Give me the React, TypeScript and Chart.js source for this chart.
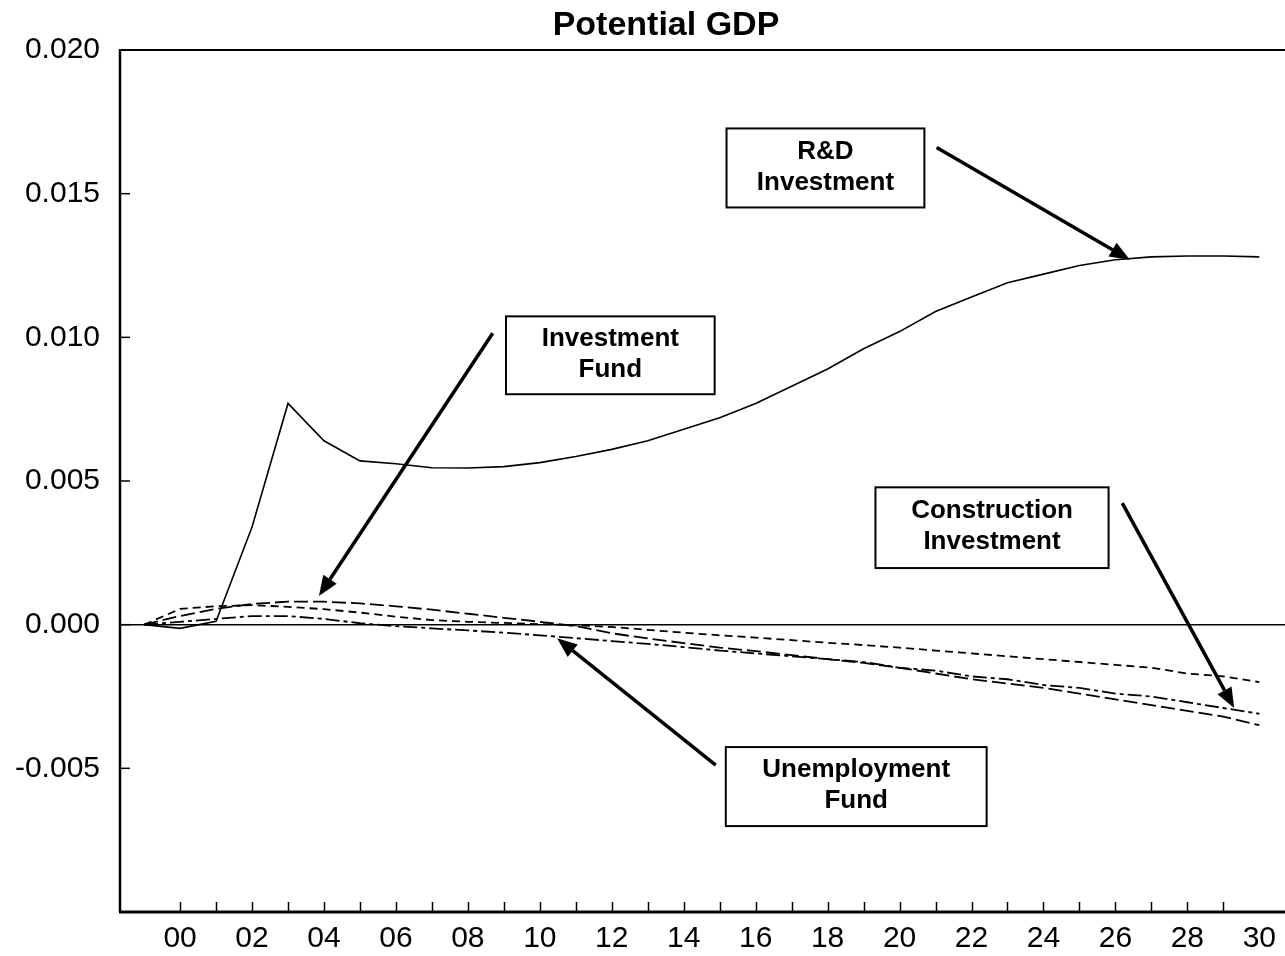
import React, { useEffect, useRef } from "react";
import { Chart, registerables } from "chart.js";

Chart.register(...registerables);

// ---------- data ----------
const YEARS = [
  1999, 2000, 2001, 2002, 2003, 2004, 2005, 2006, 2007, 2008, 2009, 2010, 2011, 2012, 2013, 2014,
  2015, 2016, 2017, 2018, 2019, 2020, 2021, 2022, 2023, 2024, 2025, 2026, 2027, 2028, 2029, 2030,
];

const RD_INVESTMENT = [
  0, -0.00013, 0.00012, 0.0034, 0.0077, 0.0064, 0.0057, 0.0056, 0.00546, 0.00545, 0.0055, 0.00564,
  0.00585, 0.0061, 0.0064, 0.0068, 0.0072, 0.0077, 0.0083, 0.0089, 0.0096, 0.0102, 0.0109, 0.0114,
  0.0119, 0.0122, 0.0125, 0.0127, 0.0128, 0.01283, 0.01283, 0.0128,
];

const INVESTMENT_FUND = [
  0, 0.0003, 0.00055, 0.00072, 0.0008, 0.0008, 0.00074, 0.00064, 0.00052, 0.00038, 0.00024, 0.0001,
  -0.00005, -0.0003, -0.00048, -0.00064, -0.0008, -0.00092, -0.00106, -0.0012, -0.00133, -0.0015,
  -0.0017, -0.0019, -0.00205, -0.0022, -0.0024, -0.0026, -0.0028, -0.003, -0.0032, -0.0035,
];

const CONSTRUCTION_INVESTMENT = [
  0, 0.00055, 0.00064, 0.00068, 0.00062, 0.00054, 0.00042, 0.00028, 0.00016, 0.0001, 0.00006, 0.00002,
  -0.00002, -0.00008, -0.00018, -0.00028, -0.00037, -0.00045, -0.00054, -0.00063, -0.00071, -0.0008,
  -0.0009, -0.001, -0.0011, -0.0012, -0.0013, -0.0014, -0.0015, -0.0017, -0.0018, -0.002,
];

const UNEMPLOYMENT_FUND = [
  0, 0.0001, 0.0002, 0.0003, 0.0003, 0.0002, 0.00005, -0.00005, -0.00013, -0.0002, -0.00028, -0.00037,
  -0.00047, -0.00057, -0.00067, -0.00078, -0.0009, -0.001, -0.0011, -0.0012, -0.0013, -0.0015,
  -0.0016, -0.0018, -0.0019, -0.0021, -0.0022, -0.0024, -0.0025, -0.0027, -0.0029, -0.0031,
];

const X_TICK_YEARS = [2000, 2002, 2004, 2006, 2008, 2010, 2012, 2014, 2016, 2018, 2020, 2022, 2024, 2026, 2028, 2030];
const X_TICK_LABELS = ["00", "02", "04", "06", "08", "10", "12", "14", "16", "18", "20", "22", "24", "26", "28", "30"];
const X_MINOR_TICKS = [
  2000, 2001, 2002, 2003, 2004, 2005, 2006, 2007, 2008, 2009, 2010, 2011, 2012, 2013, 2014,
  2015, 2016, 2017, 2018, 2019, 2020, 2021, 2022, 2023, 2024, 2025, 2026, 2027, 2028, 2029,
];
const Y_TICK_VALUES = [-0.005, 0, 0.005, 0.01, 0.015, 0.02];
const Y_TICK_LABELS = ["-0.005", "0.000", "0.005", "0.010", "0.015", "0.020"];
const Y_MINOR_TICKS = [-0.005, 0, 0.005, 0.01, 0.015];

const TITLE = "Potential GDP";

// annotation boxes and arrows (data coordinates)
const ANNOTATIONS = [
  { lines: ["R&D", "Investment"], box: [2015.19, 0.01727, 2020.69, 0.01452], from: [2021.03, 0.01661], to: [2026.4, 0.0127] },
  { lines: ["Investment", "Fund"], box: [2009.06, 0.01073, 2014.86, 0.00802], from: [2008.69, 0.01014], to: [2003.86, 0.001] },
  { lines: ["Construction", "Investment"], box: [2019.33, 0.00478, 2025.81, 0.00197], from: [2026.19, 0.00423], to: [2029.3, -0.0029] },
  { lines: ["Unemployment", "Fund"], box: [2015.17, -0.00426, 2022.42, -0.00701], from: [2014.89, -0.00489], to: [2010.48, -0.00047] },
];

const FONT = "'Liberation Sans', Arial, Helvetica, sans-serif";

const framePlugin = {
  id: "frame",
  beforeDatasetsDraw(chart: any) {
    const { ctx, chartArea, scales } = chart;
    const x = scales.x;
    const y = scales.y;
    ctx.save();
    ctx.strokeStyle = "#000";
    // zero line
    ctx.lineWidth = 1.5;
    const y0 = y.getPixelForValue(0);
    ctx.beginPath();
    ctx.moveTo(chartArea.left, y0);
    ctx.lineTo(chart.width, y0);
    ctx.stroke();
    // inward ticks
    ctx.lineWidth = 1.5;
    for (const t of X_MINOR_TICKS) {
      const px = Math.round(x.getPixelForValue(t)) + 0.5;
      ctx.beginPath();
      ctx.moveTo(px, chartArea.bottom);
      ctx.lineTo(px, chartArea.bottom - 10);
      ctx.stroke();
    }
    for (const t of Y_MINOR_TICKS) {
      const py = y.getPixelForValue(t);
      ctx.beginPath();
      ctx.moveTo(chartArea.left, py);
      ctx.lineTo(chartArea.left + 10, py);
      ctx.stroke();
    }
    // frame
    ctx.lineWidth = 2;
    ctx.beginPath();
    ctx.moveTo(chart.width, chartArea.top);
    ctx.lineTo(chartArea.left, chartArea.top);
    ctx.stroke();
    ctx.lineWidth = 2.5;
    ctx.beginPath();
    ctx.moveTo(chartArea.left, chartArea.top - 1);
    ctx.lineTo(chartArea.left, chartArea.bottom);
    ctx.stroke();
    ctx.lineWidth = 3;
    ctx.beginPath();
    ctx.moveTo(chartArea.left - 1, chartArea.bottom);
    ctx.lineTo(chart.width, chartArea.bottom);
    ctx.stroke();
    // title
    ctx.fillStyle = "#000";
    ctx.font = `bold 34px ${FONT}`;
    ctx.textAlign = "center";
    ctx.textBaseline = "middle";
    ctx.fillText(TITLE, 666, 26);
    ctx.restore();
  },
  afterDatasetsDraw(chart: any) {
    const { ctx, scales } = chart;
    const x = scales.x;
    const y = scales.y;
    ctx.save();
    for (const a of ANNOTATIONS) {
      // box
      const bx0 = x.getPixelForValue(a.box[0]);
      const by0 = y.getPixelForValue(a.box[1]);
      const bx1 = x.getPixelForValue(a.box[2]);
      const by1 = y.getPixelForValue(a.box[3]);
      ctx.fillStyle = "#fff";
      ctx.fillRect(bx0, by0, bx1 - bx0, by1 - by0);
      ctx.strokeStyle = "#000";
      ctx.lineWidth = 2;
      ctx.strokeRect(bx0, by0, bx1 - bx0, by1 - by0);
      ctx.fillStyle = "#000";
      ctx.font = `bold 26px ${FONT}`;
      ctx.textAlign = "center";
      ctx.textBaseline = "middle";
      const cx = (bx0 + bx1) / 2;
      const cy = (by0 + by1) / 2;
      const lh = 31;
      a.lines.forEach((ln, i) => {
        ctx.fillText(ln, cx, cy - 1 + (i - (a.lines.length - 1) / 2) * lh);
      });
      // arrow
      const fx = x.getPixelForValue(a.from[0]);
      const fy = y.getPixelForValue(a.from[1]);
      const tx = x.getPixelForValue(a.to[0]);
      const ty = y.getPixelForValue(a.to[1]);
      const ang = Math.atan2(ty - fy, tx - fx);
      const headLen = 20;
      const headW = 8;
      const baseX = tx - headLen * Math.cos(ang);
      const baseY = ty - headLen * Math.sin(ang);
      ctx.lineWidth = 3.5;
      ctx.lineCap = "butt";
      ctx.beginPath();
      ctx.moveTo(fx, fy);
      ctx.lineTo(baseX, baseY);
      ctx.stroke();
      ctx.beginPath();
      ctx.moveTo(tx, ty);
      ctx.lineTo(baseX + headW * Math.sin(ang), baseY - headW * Math.cos(ang));
      ctx.lineTo(baseX - headW * Math.sin(ang), baseY + headW * Math.cos(ang));
      ctx.closePath();
      ctx.fill();
    }
    ctx.restore();
  },
};

export default function App() {
  const ref = useRef<HTMLCanvasElement | null>(null);

  useEffect(() => {
    document.body.style.margin = "0";
    document.body.style.overflow = "hidden";
    const canvas = ref.current;
    if (!canvas) return;
    const mk = (vals: number[]) => YEARS.map((yr, i) => ({ x: yr, y: vals[i] }));
    const common = {
      borderColor: "#000",
      backgroundColor: "#000",
      pointRadius: 0,
      tension: 0,
      fill: false,
    };
    const chart = new Chart(canvas, {
      type: "line",
      data: {
        datasets: [
          { ...common, label: "R&D Investment", data: mk(RD_INVESTMENT), borderWidth: 1.6 },
          { ...common, label: "Investment Fund", data: mk(INVESTMENT_FUND), borderWidth: 1.8, borderDash: [14, 5] },
          { ...common, label: "Construction Investment", data: mk(CONSTRUCTION_INVESTMENT), borderWidth: 1.8, borderDash: [8, 5] },
          { ...common, label: "Unemployment Fund", data: mk(UNEMPLOYMENT_FUND), borderWidth: 1.8, borderDash: [14, 4, 4, 4] },
        ],
      },
      options: {
        responsive: false,
        animation: false,
        layout: { padding: { left: 0, right: 0, top: 50, bottom: 0 } },
        plugins: {
          legend: { display: false },
          tooltip: { enabled: false },
          title: { display: false },
        },
        scales: {
          x: {
            type: "linear",
            min: 1998.33,
            max: 2030.69,
            grid: { display: false, drawTicks: false },
            border: { display: false },
            afterBuildTicks: (s: any) => {
              s.ticks = X_TICK_YEARS.map((v) => ({ value: v }));
            },
            afterFit: (s: any) => {
              s.height = 44;
            },
            ticks: {
              autoSkip: false,
              maxRotation: 0,
              padding: 9,
              color: "#000",
              font: { family: FONT, size: 30 },
              callback: (_v: any, i: number) => X_TICK_LABELS[i],
            },
          },
          y: {
            type: "linear",
            min: -0.01,
            max: 0.02,
            grid: { display: false, drawTicks: false },
            border: { display: false },
            afterBuildTicks: (s: any) => {
              s.ticks = Y_TICK_VALUES.map((v) => ({ value: v }));
            },
            afterFit: (s: any) => {
              s.width = 120;
            },
            ticks: {
              autoSkip: false,
              padding: 20,
              color: "#000",
              font: { family: FONT, size: 30 },
              callback: (_v: any, i: number) => Y_TICK_LABELS[i],
            },
          },
        },
      },
      plugins: [framePlugin],
    } as any);
    return () => chart.destroy();
  }, []);

  return (
    <div style={{ position: "fixed", left: 0, top: 0, width: 1285, height: 956, background: "#fff" }}>
      <canvas ref={ref} width={1285} height={956} style={{ display: "block" }} />
    </div>
  );
}
